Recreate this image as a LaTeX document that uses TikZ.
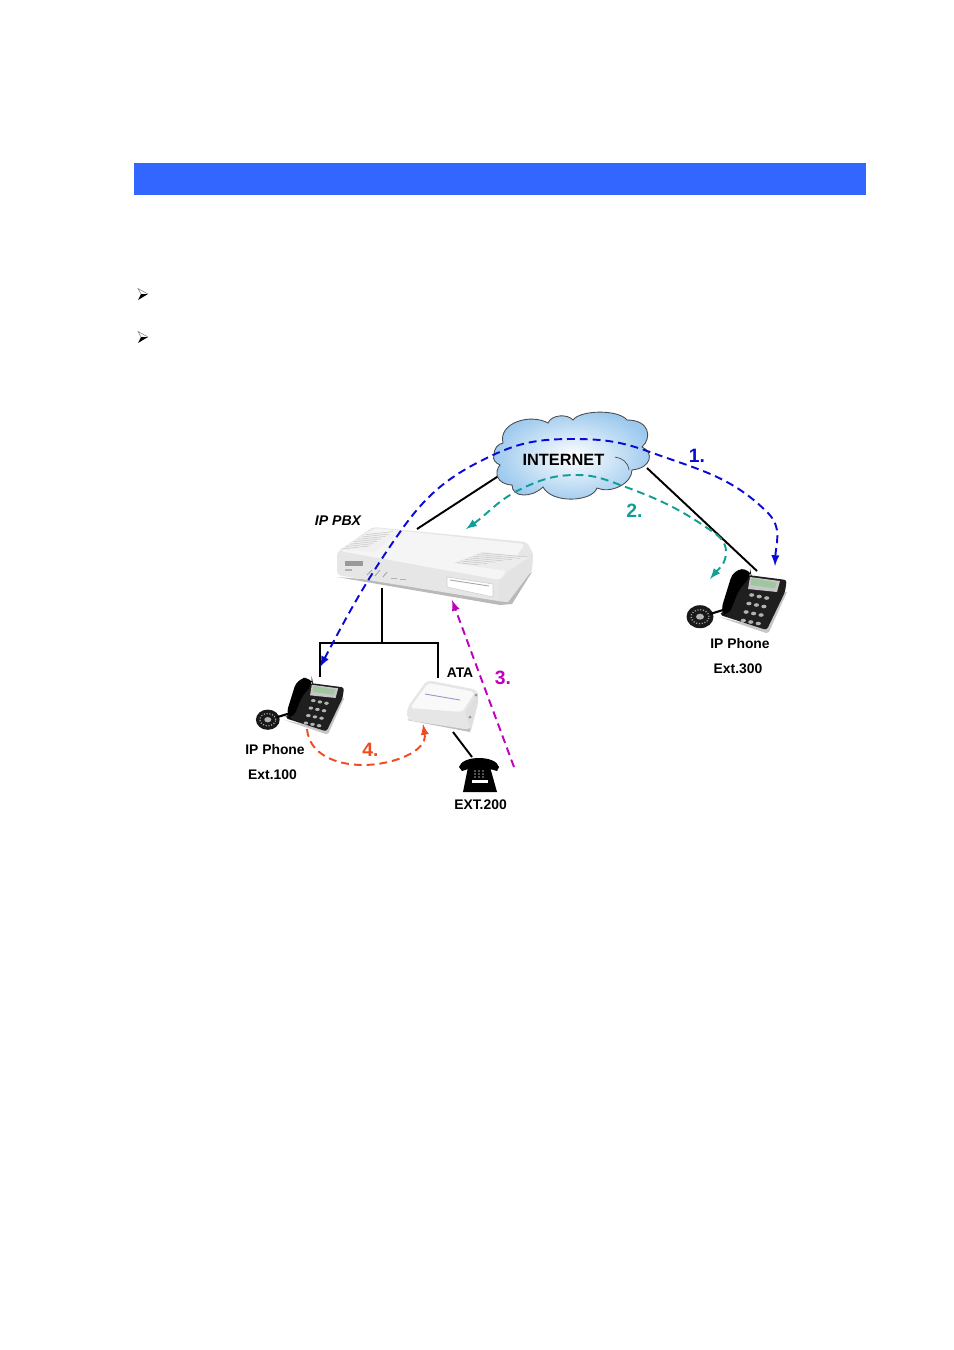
\documentclass[tikz,border=0pt]{standalone}
\usepackage{fontspec}
\setmainfont{Liberation Sans}
\usetikzlibrary{positioning}
\definecolor{bannerblue}{HTML}{3366FF}
\definecolor{cloudblue}{HTML}{9CC9EE}
\definecolor{dashblue}{HTML}{0A0AD8}
\definecolor{dashteal}{HTML}{0F9F96}
\definecolor{dashpink}{HTML}{C000C0}
\definecolor{dashred}{HTML}{F04A20}
\definecolor{boxgray}{HTML}{E6E6E6}
\tikzset{
  caption/.style={font=\fontsize{7.9}{9}\selectfont\bfseries,text=black,inner sep=0pt},
  step1/.style={font=\fontsize{11}{13}\selectfont\bfseries,inner sep=0pt},
  wire/.style={black,line width=1.1pt},
  call/.style={line width=1.1pt,dash pattern=on 4.5pt off 2.8pt,-latex},
  bulletmark/.pic={
    \fill [black] (5.5,0) -- (-1.5,0) -- (-4.5,-6) -- cycle;
    \draw [gray,line width=0.3pt] (5.5,0) -- (-4.5,5.5) -- (-1.5,0);
  },
  ipphone/.pic={
    \fill [gray!45] (-21,-17) -- (26,-33) -- (29,-32) -- (47,8) -- (45,8) -- (26,-28) -- cycle;
    \fill [black!88,rounded corners=1.5] (8,25) -- (46.7,20) -- (45,8) -- (26.7,-30) -- (-20,-15) -- cycle;
    \fill [black,rounded corners=5] (-20,-13) -- (-6.7,30) -- (10,31.7) -- (11.7,23) -- (0,13) -- (-11.7,-16.7) -- cycle;
    \fill [gray!45] (10,23) -- (40,19) -- (37,8) -- (8,11) -- cycle;
    \fill [green!25!gray!60] (11.7,21.7) -- (36.7,17.3) -- (35,11.7) -- (10.7,15) -- cycle;
    \foreach \r in {0,1,2,3}
      \foreach \c in {0,1,2}
        \fill [gray!60] (11.7+7.5*\c-2.8*\r,5-1.5*\c-8.5*\r) ellipse (2.6 and 1.8);
    \fill [black!90] (-40,-16.7) ellipse (13.5 and 11.5);
    \draw [gray!70,line width=0.7pt,dash pattern=on 0.6pt off 1pt] (-40,-16.7) ellipse (9 and 7);
    \fill [gray!60] (-40,-16.7) ellipse (4 and 3);
    \draw [black,line width=1.2pt] (-30,-14) -- (-17,-10);
  }
}
\begin{document}
\begin{tikzpicture}[x=0.02cm,y=0.02cm]
\useasboundingbox (0,0) rectangle (954,-1350);
\fill [bannerblue] (134,-163) rectangle (866,-195);
\pic at (142.5,-294) {bulletmark};
\pic at (142.5,-337) {bulletmark};
% end points of the wires and calls
\coordinate (pbxtop) at (417,-529);
\coordinate (pbxbottom) at (382,-588);
\coordinate (cloudleft) at (500,-475);
\coordinate (cloudright) at (647,-468);
\coordinate (phonec) at (757,-571);
\coordinate (tee) at (382,-643);
\coordinate (phonea) at (320,-677);
\coordinate (atatop) at (438,-678);
\coordinate (atabottom) at (453,-732);
\coordinate (desk) at (472,-757);
% wires
\draw [wire] (pbxtop) -- (cloudleft);
\draw [wire] (cloudright) -- (phonec);
\draw [wire] (pbxbottom) -- (tee);
\draw [wire] (phonea) |- (tee) -| (atatop);
\draw [wire] (atabottom) -- (desk);
% cloud
\shade [inner color=white,outer color=cloudblue,draw=black!70,line width=0.5pt]
  (494,-455) .. controls (494,-448) and (498,-444) .. (503,-443)
  .. controls (498,-423) and (530,-413) .. (548,-423)
  .. controls (552,-414) and (568,-414) .. (573,-420)
  .. controls (580,-410) and (618,-409) .. (627,-420)
  .. controls (650,-420) and (652,-438) .. (642,-447)
  .. controls (654,-452) and (652,-468) .. (632,-470)
  .. controls (632,-484) and (610,-494) .. (597,-488)
  .. controls (592,-502) and (552,-504) .. (543,-487)
  .. controls (532,-498) and (512,-498) .. (512,-485)
  .. controls (496,-484) and (494,-472) .. (500,-465)
  .. controls (496,-463) and (492,-460) .. (494,-455) -- cycle;
\draw [black!70,line width=0.4pt] (615,-457) .. controls (622,-458) and (628,-462) .. (629,-470);
\node [font=\fontsize{9.3}{11}\selectfont\bfseries,inner sep=0pt] (internet) at (563.5,-460) {INTERNET};
% ip pbx
\fill [gray!55] (337,-577) -- (500,-605) -- (512,-604) -- (532,-572) -- (500,-590) -- cycle;
\fill [boxgray,rounded corners=2] (337,-552) -- (373,-527) -- (527,-542) -- (533,-553) -- (532,-570) -- (508,-602) -- (498,-601) -- (337,-575) -- cycle;
\fill [white!92!gray,rounded corners=2] (340,-551) -- (375,-528) -- (525,-544) -- (500,-580) -- cycle;
\fill [gray!22] (500,-581) -- (533,-553) -- (532,-570) -- (508,-602) -- (498,-601) -- cycle;
\fill [gray!12] (342,-549) -- (368,-532) -- (395,-535) -- (375,-552) -- cycle;
\foreach \v in {0,1,...,6}
  \draw [gray!45,line width=0.3pt] (342+4*\v,-549+2.4*\v-0) ++(0,0) -- ++(27,3);
\fill [gray!15] (453,-563) -- (483,-552) -- (530,-557) -- (507,-571) -- cycle;
\foreach \v in {0,1,...,6}
  \draw [gray!45,line width=0.3pt] (481-4*\v,-553-1.6*\v) -- ++(47-7*\v*0.6,-4+\v*0.3);
\fill [gray!80] (345,-561) rectangle (363,-566);
\fill [gray!60] (345,-569) rectangle (352,-571);
\draw [gray!70,line width=0.5pt] (367,-575) -- (372,-570) (375,-576) -- (380,-570) (383,-577) -- (387,-572);
\draw [gray!60,line width=0.5pt] (391,-578) -- (397,-578) (400,-579) -- (406,-579);
\fill [white,draw=gray!40,line width=0.3pt] (447,-577) -- (493,-584) -- (493,-597) -- (447,-587) -- cycle;
\draw [gray!70,line width=0.5pt] (450,-580) -- (489,-586);
% phones
\pic at (740,-600) {ipphone};
\pic [scale=0.88] at (303,-705) {ipphone};
% ata
\fill [gray!50] (407,-720) -- (470,-732) -- (478,-700) -- cycle;
\fill [boxgray,rounded corners=3] (407,-708) -- (427,-680) -- (478,-690) -- (478,-703) -- (471,-730) -- (407,-720) -- cycle;
\fill [white!95!gray,rounded corners=2] (410,-708) -- (428,-683) -- (475,-692) -- (462,-712) -- cycle;
\draw [blue!40!gray!60,line width=0.5pt] (425,-694) -- (460,-700);
\fill [gray!25] (478,-692) -- (478,-703) -- (471,-730) -- (465,-712) -- cycle;
\fill [gray!85] (476,-695) circle (1.5) (470,-717) circle (1.5);
% desk phone
\fill [black] (459,-767) .. controls (462,-755) and (496,-755) .. (499,-767) -- (497,-771) -- (490,-769) -- (468,-769) -- (462,-771) -- cycle;
\fill [black] (468,-767) -- (490,-767) -- (497,-792) -- (463,-792) -- cycle;
\foreach \r in {0,1,2}
  \foreach \c in {0,1,2}
    \fill [gray!70] (475+4*\c,-771-3*\r) circle (0.9);
\fill [white] (472,-780) rectangle (488,-783);
% calls
\coordinate (bluew) at (400,-532);
\coordinate (blueb) at (493,-455);
\coordinate (bluec) at (573,-439);
\coordinate (blued) at (650,-452);
\coordinate (bluee) at (768,-513);
\draw [call,dashblue,latex-latex] (320,-667) to [out=62,in=235] (bluew) to [out=55,in=205] (blueb) to [out=25,in=180] (bluec)
  to [out=0,in=160] (blued) to [out=-20,in=135] (bluee) to [out=-45,in=88] (775,-566);
\coordinate (tealb) at (523,-488);
\coordinate (tealc) at (577,-475);
\coordinate (teald) at (623,-486);
\coordinate (teale) at (713,-532);
\coordinate (tealf) at (726,-552);
\draw [call,dashteal,latex-latex] (466,-529) to [out=35,in=205] (tealb) to [out=25,in=180] (tealc)
  to [out=0,in=160] (teald) to [out=-20,in=145] (teale) to [out=-35,in=90] (tealf) to [out=-90,in=50] (710,-579);
\draw [call,dashpink] (514,-767) -- (452,-600);
\coordinate (reda) at (307,-729);
\coordinate (redb) at (363,-765);
\coordinate (redc) at (423,-724);
\draw [call,dashred] (reda) to [out=-85,in=180] (redb) to [out=0,in=-80] (redc);
% labels
\node [font=\fontsize{8}{9}\selectfont\bfseries\itshape,inner sep=0pt] (pbxlabel) at (338,-521) {IP PBX};
\node [caption] (phonecname) at (740,-644) {IP Phone};
\node [caption] (phonecext) at (738,-669) {Ext.300};
\node [caption] (phoneaname) at (275,-750) {IP Phone};
\node [caption] (phoneaext) at (272.5,-775) {Ext.100};
\node [caption] (atalabel) at (460,-673) {ATA};
\node [caption] (desklabel) at (480.5,-805) {EXT.200};
\node [step1,text=dashblue] (num1) at (697,-456) {1.};
\node [step1,text=dashteal] (num2) at (634.5,-511) {2.};
\node [step1,text=dashpink] (num3) at (503,-678) {3.};
\node [step1,text=dashred] (num4) at (370.5,-750) {4.};
\end{tikzpicture}
\end{document}
